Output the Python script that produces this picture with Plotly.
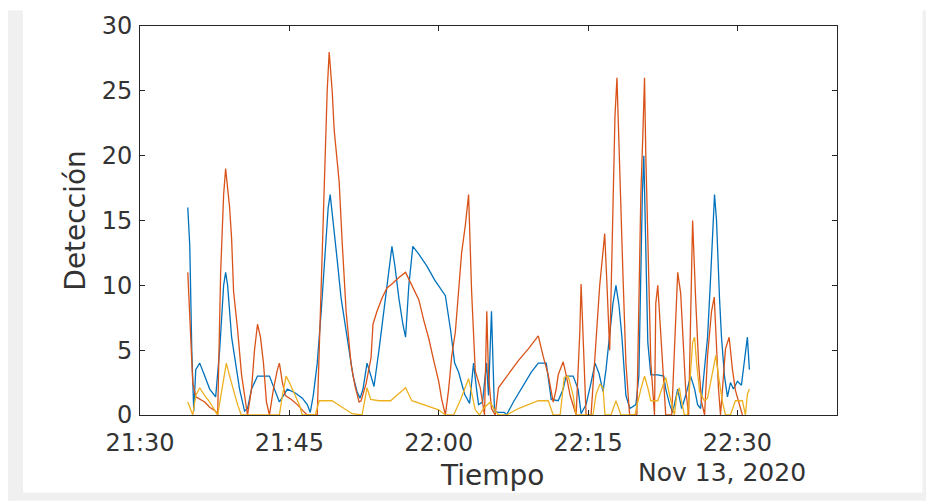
import pandas as pd
import plotly.graph_objects as go

# Minutes after 21:30 (13 Nov 2020) and detections per series
blue_min = [4.8, 5.0, 5.2, 5.4, 5.6, 6.0, 6.5, 7.0, 7.6, 8.0, 8.4, 8.6, 8.8, 9.2, 9.6,
            10.0, 10.5, 10.8, 11.2, 11.8, 13.0, 13.5, 14.0, 14.4, 14.8, 15.6, 16.3, 16.8,
            17.1, 17.4, 17.8, 18.2, 18.6, 18.9, 19.1, 19.4, 19.8, 20.2, 20.6, 21.0, 21.4,
            21.8, 22.1, 22.4, 22.8, 23.2, 23.5, 24.0, 24.5, 25.0, 25.3, 25.6, 26.0, 26.4,
            26.67, 27.0, 27.4, 28.0, 28.8, 29.6, 30.67, 31.2, 31.6, 32.0, 32.6, 33.1, 33.5,
            33.8, 34.0, 34.4, 34.8, 35.0, 35.3, 35.6, 36.0, 36.6, 36.8, 37.5, 38.5, 39.3,
            40.0, 40.8, 41.3, 42.0, 42.5, 42.8, 43.5, 44.0, 44.3, 44.8, 45.3, 45.7, 46.1,
            46.5, 46.8, 47.2, 47.5, 47.8, 48.1, 48.4, 48.8, 49.2, 49.8, 50.1, 50.3, 50.45,
            50.6, 50.8, 51.0, 51.3, 52.0, 52.6, 52.8, 53.2, 53.5, 54.0, 54.4, 54.8, 55.3,
            55.7, 56.0, 56.3, 56.6, 57.0, 57.3, 57.5, 57.7, 57.9, 58.0, 58.2, 58.4, 58.7,
            59.0, 59.3, 59.6, 60.0, 60.4, 60.7, 61.0, 61.2]
blue_val = [16, 13, 5, 0.3, 3.5, 4, 3, 2, 1.4, 5, 10, 11, 10, 6, 4,
            2, 0.3, 0.5, 2, 3, 3, 2, 1, 1.5, 2, 1.7, 1.3, 0.8,
            0.2, 1.5, 4, 8, 13, 16, 17, 15, 12, 9, 7, 5, 3,
            1.8, 1.3, 2, 4, 3, 2.2, 5, 8, 11, 13, 11.5, 9, 7,
            6, 10, 13, 12.4, 11.5, 10.4, 9.2, 6.5, 4, 3.3, 1.6, 0.9, 4,
            2, 0.8, 1, 4, 1.5, 8, 0.3, 0.2, 0.2, 0, 1, 2.3, 3.3,
            4, 4, 1.2, 1.1, 2, 3, 3, 2, 0.1, 0.8, 2.5, 4, 3.2,
            1.8, 3.5, 6.5, 8.6, 10, 8.5, 6, 1.5, 0.5, 0.8, 3, 13, 17,
            20, 13, 5.6, 3.1, 3.1, 3, 2, 0.8, 0.2, 2, 0.5, 1.5, 3,
            2, 0.8, 0.5, 3, 6, 10.5, 14, 17, 15, 12.6, 9, 6, 3,
            1.4, 2.5, 2, 2.6, 2.3, 4, 6, 3.5]

orange_min = [4.8, 5.0, 5.3, 5.6, 6.0, 6.5, 7.0, 7.6, 7.8, 8.1, 8.4, 8.6, 8.8, 9.0, 9.2,
              9.4, 9.8, 10.2, 10.6, 10.8, 11.2, 11.5, 11.8, 12.1, 12.4, 12.7, 13.0, 13.4,
              13.8, 14.0, 14.3, 14.6, 15.2, 15.8, 16.4, 16.8, 17.8, 18.2, 18.6, 18.8, 19.0,
              19.1, 19.3, 19.5, 20.0, 20.3, 20.7, 21.2, 21.6, 22.0, 22.2, 22.7, 23.2, 23.4,
              23.8, 24.3, 24.8, 25.3, 26.0, 26.67, 27.3, 28.0, 28.5, 29.0, 29.5, 30.0, 30.3,
              30.67, 31.0, 31.3, 31.67, 32.0, 32.3, 32.67, 33.0, 33.3, 33.67, 34.17, 34.6,
              34.83, 35.0, 35.3, 35.67, 36.0, 37.0, 38.0, 39.0, 40.0, 40.5, 41.0, 41.5, 41.8,
              42.0, 42.5, 42.8, 43.2, 43.8, 44.17, 44.3, 44.5, 44.8, 45.3, 45.8, 46.17, 46.5,
              46.67, 46.9, 47.17, 47.3, 47.5, 47.7, 47.9, 48.1, 48.2, 48.5, 48.8, 49.17, 49.9,
              50.17, 50.3, 50.5, 50.67, 50.8, 51.0, 51.3, 51.67, 51.8, 52.0, 52.3, 52.5, 52.8,
              53.4, 53.7, 54.0, 54.3, 54.6, 54.8, 55.1, 55.3, 55.5, 55.8, 56.1, 56.4, 56.7,
              57.0, 57.2, 57.4, 57.67, 57.9, 58.1, 58.3, 58.6, 58.8, 59.17, 59.5, 59.8, 60.1,
              60.5]
orange_val = [11, 7, 2.5, 1.4, 1.2, 1, 0.6, 0.3, 0, 11, 17, 19, 17.5, 16, 13.6,
              9.5, 6.6, 3.1, 1, 0, 2, 5, 7, 6, 4, 1, 0, 2,
              3.5, 4, 2.5, 1.5, 1.2, 0.8, 0.3, 0, 0, 10, 20.6, 25, 28,
              27, 25, 22, 18, 13.4, 8, 3.9, 2.2, 1, 1.1, 2.4, 4.4, 7,
              8, 9, 9.8, 10.1, 10.6, 11, 10, 8.9, 7.3, 5.9, 4.2, 2.6, 1.2,
              0, 2, 4.5, 6.4, 10, 12.5, 14.6, 17, 9.6, 3.4, 2.1, 0,
              8, 3, 0.5, 0, 2.1, 3.2, 4.2, 5.1, 6.1, 4.5, 3.1, 1, 2,
              3.1, 4.1, 3.1, 1.5, 0, 6.4, 10.1, 6, 0, 0, 6, 10, 12.6,
              14, 10, 5, 9, 16.9, 23, 26, 21, 17, 10.9, 4, 0, 0,
              11.1, 17, 21.6, 26, 20, 13.4, 4.1, 0, 8.6, 10, 6, 4, 0,
              0, 5.6, 11, 9.4, 5, 2, 0, 8.6, 15, 9, 4, 1, 0,
              4.6, 6.1, 8, 9.1, 5, 2, 0, 3, 5.1, 6, 3.5, 1.9, 1,
              0]

yellow_min = [4.8, 5.3, 5.6, 6.0, 6.5, 7.0, 7.8, 8.2, 8.67, 9.0, 9.4, 9.8, 10.17, 14.0,
              14.3, 14.67, 15.0, 15.5, 16.0, 16.3, 17.6, 18.0, 19.3, 20.3, 21.3, 22.3, 22.8,
              23.17, 24.0, 25.17, 26.67, 27.3, 28.5, 30.0, 30.67, 31.5, 32.2, 33.0, 33.67,
              34.1, 34.5, 35.17, 35.6, 36.0, 36.8, 38.0, 39.0, 40.0, 41.0, 41.5, 42.2, 42.6,
              43.0, 43.5, 43.8, 45.5, 45.8, 46.2, 46.5, 46.7, 47.3, 47.8, 48.3, 49.7, 50.3,
              50.67, 51.0, 51.3, 52.0, 52.4, 52.8, 53.2, 53.67, 53.9, 54.17, 54.4, 54.67,
              55.0, 55.3, 55.5, 55.7, 55.9, 56.2, 56.67, 57.0, 57.4, 57.83, 58.1, 58.5, 58.8,
              59.3, 59.8, 60.5, 60.8, 61.0, 61.2]
yellow_val = [1, 0, 1.5, 2.1, 1.5, 1, 0, 2, 4, 3, 1.8, 0.8, 0, 0,
              1.5, 3, 2.5, 1.7, 0.8, 0, 0, 1.1, 1.1, 0.6, 0.1, 0, 2.1,
              1.2, 1.1, 1.1, 2.1, 1.1, 0.8, 0.4, 0, 0, 1.2, 2.8, 0.4,
              0, 0.5, 1, 0.4, 0, 0, 0.5, 0.8, 1.1, 1.1, 0, 0, 2.9,
              3, 1.5, 0, 0, 1.6, 2.4, 2.1, 0, 0, 1.1, 0, 0, 2,
              3, 2.1, 1.1, 1.1, 2, 2.9, 1.5, 0, 1.5, 2.1, 1, 0,
              0, 3, 5.6, 6, 4, 1.8, 1.1, 1.3, 3, 4.6, 3, 1, 0,
              0, 1.1, 1.1, 0, 1.6, 2]

start = pd.Timestamp("2020-11-13 21:30:00")


def to_time(minutes):
    return start + pd.to_timedelta(minutes, unit="m")


series = [
    (blue_min, blue_val, "#0072BD"),
    (orange_min, orange_val, "#D95319"),
    (yellow_min, yellow_val, "#EDB120"),
]

fig = go.Figure()
for mins, vals, color in series:
    fig.add_trace(go.Scatter(
        x=to_time(mins), y=vals, mode="lines",
        line=dict(color=color, width=1.3),
        showlegend=False, hoverinfo="skip",
    ))

axis_color = "#262626"
label_color = "#333333"
font_family = "DejaVu Sans"

fig.update_xaxes(
    type="date",
    range=[start, start + pd.Timedelta(minutes=70)],
    tick0=start, dtick=15 * 60 * 1000, tickformat="%H:%M",
    ticks="inside", ticklen=5, tickwidth=1, tickcolor=axis_color,
    showline=True, linecolor=axis_color, linewidth=1, mirror="ticks",
    showgrid=False, zeroline=False, ticklabelstandoff=6,
    tickfont=dict(family=font_family, size=24, color=label_color),
)
fig.update_yaxes(
    range=[0, 30], tick0=0, dtick=5,
    ticks="inside", ticklen=5, tickwidth=1, tickcolor=axis_color,
    showline=True, linecolor=axis_color, linewidth=1, mirror="ticks",
    showgrid=False, zeroline=False, ticklabelstandoff=2,
    tickfont=dict(family=font_family, size=24, color=label_color),
)

# Window frame around the figure
frame = "#f0f0f0"
fig.add_shape(type="rect", xref="paper", yref="paper", layer="below",
              x0=-0.1894, x1=-0.1679, y0=-0.22, y1=1.04,
              fillcolor=frame, line_width=0)
fig.add_shape(type="rect", xref="paper", yref="paper", layer="below",
              x0=-0.1894, x1=1.13, y0=-0.22, y1=-0.2,
              fillcolor=frame, line_width=0)
fig.add_shape(type="rect", xref="paper", yref="paper", layer="below",
              x0=1.1227, x1=1.13, y0=-0.22, y1=1.04,
              fillcolor=frame, line_width=0)

fig.add_annotation(text="Tiempo", xref="paper", yref="paper", x=0.505, y=-0.155,
                   showarrow=False, xanchor="center", yanchor="middle",
                   font=dict(family=font_family, size=28, color=label_color))
fig.add_annotation(text="Detección", xref="paper", yref="paper", x=-0.093, y=0.5,
                   textangle=-90, showarrow=False, xanchor="center", yanchor="middle",
                   font=dict(family=font_family, size=28, color=label_color))
fig.add_annotation(text="Nov 13, 2020", xref="paper", yref="paper", x=0.835, y=-0.147,
                   showarrow=False, xanchor="center", yanchor="middle",
                   font=dict(family=font_family, size=25, color=label_color))

fig.update_layout(
    width=926, height=502,
    margin=dict(l=140, r=89, t=15, b=87),
    paper_bgcolor="white", plot_bgcolor="white",
)

fig.write_html("out.html")
